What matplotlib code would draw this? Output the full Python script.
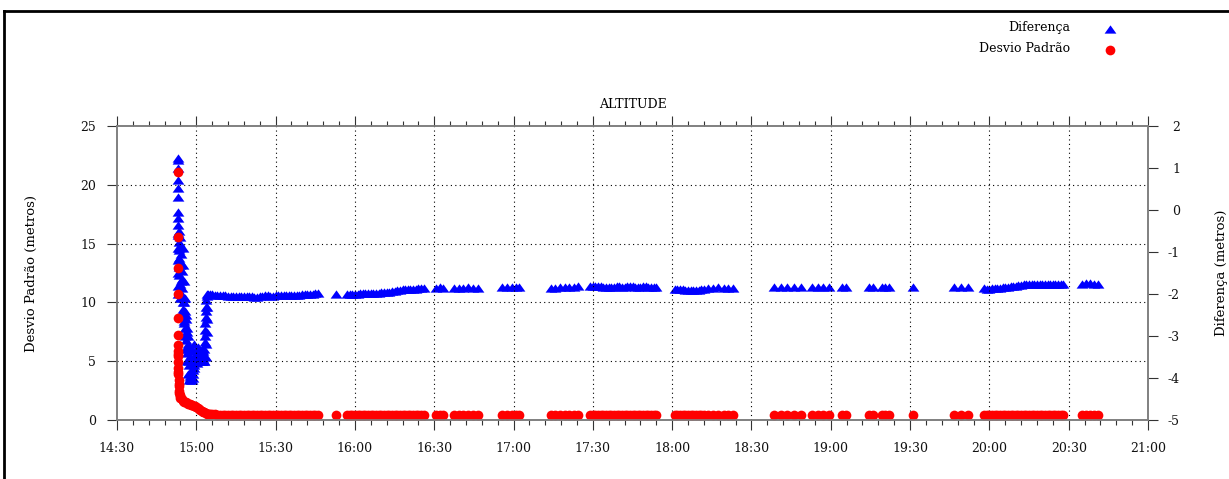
import matplotlib
matplotlib.use("Agg")
import matplotlib.pyplot as plt
from matplotlib.lines import Line2D
from matplotlib.ticker import MultipleLocator

plt.rcParams['font.family'] = ['DejaVu Serif']
plt.rcParams['font.size'] = 9

# time in minutes after 14:30
# start of the run (big spike and dip)
t_dif_start = [23.0, 23.0, 23.0, 23.0, 23.0, 23.0, 23.0, 23.0, 23.0,
               23.2, 23.3, 23.4, 23.5, 23.5, 23.6, 23.7, 23.8, 23.9,
               24.0, 24.1, 24.2, 24.3, 24.4, 24.5, 24.6, 24.7, 24.8,
               25.0, 25.2, 25.4, 25.6, 25.8, 26.0,
               25.5, 25.8, 26.1, 26.4, 26.7, 27.0,
               26.3, 26.6, 26.9, 27.2, 27.5, 27.8, 28.1, 28.4, 28.7,
               27.4, 27.8, 28.2, 28.6, 29.0, 29.3,
               29.6, 29.9, 30.2, 30.5, 30.8, 31.1, 31.4, 31.7, 32.0, 32.3,
               32.6, 32.9, 33.1, 33.3, 33.5, 33.7, 33.9, 34.2, 34.6,
               23.3, 23.6, 23.9, 24.2, 24.5, 24.9, 25.3, 25.7, 26.1, 26.5, 26.9, 27.3,
               28.9, 29.2, 29.5, 30.0, 30.4, 31.0, 31.6, 32.2, 32.8, 33.0, 33.2, 33.4,
               33.6, 33.8,
               23.0, 23.0, 23.1, 23.1, 23.2, 23.2,
               24.9, 25.1, 25.3, 25.6, 26.0, 26.4, 26.8, 27.2, 27.6,
               28.5, 29.0, 29.8, 30.6, 31.3, 32.0, 32.6, 33.0, 33.5, 33.7, 33.9, 34.0, 34.1]
dif_start = [1.24, 1.19, 1.00, 0.71, 0.52, 0.31, -0.05, -0.19, -0.36,
             -0.55, -0.75, -0.95, -1.15, -1.35, -1.55, -1.75, -1.95, -2.10,
             -0.65, -0.85, -1.05, -1.25, -1.45, -1.65, -1.85, -2.05, -2.20,
             -2.35, -2.50, -2.65, -2.80, -2.95, -3.10,
             -2.20, -2.40, -2.60, -2.80, -3.00, -3.20,
             -3.25, -3.40, -3.55, -3.70, -3.85, -4.00, -4.05, -4.05, -4.00,
             -3.35, -3.50, -3.65, -3.80, -3.70, -3.60,
             -3.55, -3.35, -3.30, -3.40, -3.55, -3.60, -3.60, -3.55, -3.60, -3.60,
             -3.55, -3.30, -3.00, -2.70, -2.40, -2.15, -2.05, -2.00, -2.00,
             -0.50, -0.90, -1.30, -1.70, -2.10, -2.40, -2.70, -3.00, -3.30, -3.60, -3.90, -4.05,
             -3.90, -3.75, -3.45, -3.60, -3.65, -3.35, -3.45, -3.40, -3.60, -3.45, -3.15, -2.85,
             -2.55, -2.30,
             -0.60, -0.90, -1.20, -1.50, -1.80, -2.00,
             -0.90, -1.30, -1.70, -2.10, -2.50, -2.90, -3.30, -3.60, -3.95,
             -3.30, -3.20, -3.50, -3.25, -3.50, -3.30, -3.35, -3.60, -3.50, -3.20, -2.90, -2.60, -2.30]

t_std_start = [23.0, 23.0, 23.0, 23.0, 23.0, 23.0, 23.0,
               23.1, 23.1, 23.1, 23.2, 23.2, 23.3, 23.4, 23.5, 23.7,
               24.0, 25.0, 26.0, 27.0, 28.0, 29.0, 30.0, 31.0, 32.0, 33.0, 34.0, 34.8,
               23.15, 23.25, 23.35, 23.6, 23.8, 24.5, 25.5, 26.5, 27.5, 28.5, 29.5,
               30.5, 31.5, 32.5, 33.5]
std_start = [21.1, 15.6, 12.9, 10.7, 8.7, 7.2, 6.4,
             5.9, 5.4, 4.9, 4.4, 3.9, 3.4, 2.9, 2.5, 2.1,
             1.9, 1.65, 1.5, 1.4, 1.3, 1.2, 1.1, 0.95, 0.8, 0.65, 0.55, 0.5,
             5.6, 4.1, 3.1, 2.3, 2.0, 1.75, 1.55, 1.45, 1.35, 1.25, 1.15,
             1.0, 0.88, 0.72, 0.6]

# steady part, both series share the same sample times
t_rest = [35, 36, 37, 38, 39, 40, 41, 42, 43, 44, 45, 46, 47, 48, 49, 50, 51, 52, 53, 54,
          55, 56, 57, 58, 59, 60, 61, 62, 63, 64, 65, 66, 67, 68, 69, 70, 71, 72, 73, 74, 75, 76,
          83,
          87, 88, 89, 90, 91, 92, 93, 94, 95, 96, 97, 98, 99, 100, 101, 102, 103, 104, 105, 106,
          107, 108, 109, 110, 111, 112, 113, 114, 115, 116,
          120.6, 122, 123.3,
          127.5, 129.3, 131, 132.8, 134.6, 136.5,
          145.6, 147.5, 149.5, 151, 152,
          164, 165.8, 167.6, 169.4, 171, 172.7, 174.4,
          179, 180, 181, 182, 183, 184, 185, 186, 187, 188, 189, 190, 191, 192, 193, 194, 195,
          196, 197, 198, 199, 200, 201, 202, 203, 204,
          211, 212, 213, 214, 215, 216, 217, 218, 219, 220, 221, 222,
          223.5, 225.5, 227.5, 229.5, 231.3, 233,
          248.5, 251, 253.5, 256, 258.7,
          262.9, 265, 267, 269.3,
          274.2, 275.7,
          284.4, 285.9,
          289.3, 290.6, 292,
          301,
          316.6, 319.2, 321.9,
          328, 329, 330, 331, 332, 333, 334, 335, 336, 337, 338, 339, 340, 341, 342, 343, 344,
          345, 346, 347, 348, 349, 350, 351, 352, 353, 354, 355, 356, 357, 358,
          365, 366.5, 368, 369.5, 371]
dif_rest = [-2.00, -2.01, -2.02, -2.02, -2.03, -2.03, -2.03, -2.04, -2.04, -2.04,
            -2.04, -2.05, -2.05, -2.04, -2.04, -2.05, -2.05, -2.06, -2.06, -2.05,
            -2.04, -2.03, -2.03, -2.04, -2.04, -2.03, -2.03, -2.03, -2.02, -2.02,
            -2.02, -2.03, -2.03, -2.02, -2.02, -2.01, -2.01, -2.00, -2.00, -1.99,
            -1.98, -1.97,
            -1.99,
            -2.00, -2.00, -1.99, -1.99, -1.99, -1.98, -1.98, -1.98, -1.97, -1.98,
            -1.98, -1.97, -1.97, -1.96, -1.96, -1.95, -1.95, -1.94, -1.92, -1.91,
            -1.90, -1.89, -1.89, -1.88, -1.88, -1.87, -1.87, -1.86, -1.86, -1.86,
            -1.85, -1.84, -1.85,
            -1.86, -1.85, -1.85, -1.84, -1.85, -1.85,
            -1.84, -1.83, -1.83, -1.84, -1.84,
            -1.86, -1.85, -1.84, -1.84, -1.83, -1.83, -1.82,
            -1.82, -1.81, -1.81, -1.82, -1.82, -1.83, -1.83, -1.83, -1.83, -1.83,
            -1.82, -1.82, -1.83, -1.83, -1.82, -1.82, -1.82, -1.83, -1.83, -1.83,
            -1.82, -1.82, -1.83, -1.83, -1.84, -1.84,
            -1.88, -1.88, -1.89, -1.89, -1.90, -1.90, -1.90, -1.91, -1.91, -1.90,
            -1.89, -1.87,
            -1.85, -1.85, -1.84, -1.85, -1.85, -1.85,
            -1.84, -1.83, -1.84, -1.83, -1.84,
            -1.84, -1.83, -1.84, -1.84,
            -1.84, -1.84,
            -1.84, -1.84,
            -1.84, -1.83, -1.84,
            -1.84,
            -1.84, -1.84, -1.84,
            -1.86, -1.87, -1.87, -1.86, -1.86, -1.85, -1.85, -1.84, -1.84, -1.83,
            -1.82, -1.81, -1.80, -1.79, -1.78, -1.77, -1.76, -1.76, -1.76, -1.75,
            -1.75, -1.76, -1.76, -1.75, -1.75, -1.76, -1.76, -1.75, -1.75, -1.76,
            -1.77,
            -1.75, -1.74, -1.74, -1.75, -1.76]
std_rest = [0.50, 0.48, 0.47, 0.46, 0.46, 0.45, 0.46, 0.45, 0.45, 0.46,
            0.45, 0.45, 0.46, 0.45, 0.45, 0.46, 0.45, 0.45, 0.46, 0.45,
            0.45, 0.46, 0.45, 0.45, 0.46, 0.45, 0.45, 0.46, 0.45, 0.45,
            0.46, 0.45, 0.45, 0.46, 0.45, 0.45, 0.46, 0.45, 0.45, 0.46,
            0.45, 0.46,
            0.46,
            0.46, 0.45, 0.45, 0.46, 0.45, 0.45, 0.46, 0.45, 0.45, 0.46,
            0.45, 0.45, 0.46, 0.45, 0.45, 0.46, 0.45, 0.45, 0.46, 0.45,
            0.45, 0.46, 0.45, 0.45, 0.46, 0.45, 0.45, 0.46, 0.45, 0.46,
            0.46, 0.45, 0.46,
            0.46, 0.45, 0.45, 0.46, 0.45, 0.46,
            0.46, 0.45, 0.45, 0.46, 0.46,
            0.46, 0.45, 0.46, 0.45, 0.45, 0.46, 0.46,
            0.46, 0.45, 0.45, 0.46, 0.45, 0.45, 0.46, 0.45, 0.45, 0.46,
            0.45, 0.45, 0.46, 0.45, 0.45, 0.46, 0.45, 0.45, 0.46, 0.45,
            0.45, 0.46, 0.45, 0.45, 0.46, 0.46,
            0.46, 0.45, 0.45, 0.46, 0.45, 0.45, 0.46, 0.45, 0.45, 0.46,
            0.45, 0.46,
            0.46, 0.45, 0.46, 0.45, 0.45, 0.46,
            0.46, 0.45, 0.46, 0.45, 0.46,
            0.46, 0.45, 0.45, 0.46,
            0.46, 0.46,
            0.46, 0.46,
            0.46, 0.45, 0.46,
            0.46,
            0.46, 0.45, 0.46,
            0.46, 0.45, 0.45, 0.46, 0.45, 0.45, 0.46, 0.45, 0.45, 0.46,
            0.45, 0.45, 0.46, 0.45, 0.45, 0.46, 0.45, 0.45, 0.46, 0.45,
            0.45, 0.46, 0.45, 0.45, 0.46, 0.45, 0.45, 0.46, 0.45, 0.45,
            0.46,
            0.46, 0.45, 0.45, 0.46, 0.46]

xtick_pos = [0, 30, 60, 90, 120, 150, 180, 210, 240, 270, 300, 330, 360, 390]
xtick_labels = ['14:30', '15:00', '15:30', '16:00', '16:30', '17:00', '17:30',
                '18:00', '18:30', '19:00', '19:30', '20:00', '20:30', '21:00']

# gnuplot-like flat triangle
tri = [(-1.0, -0.7), (1.0, -0.7), (0.0, 0.7), (-1.0, -0.7)]

fig = plt.figure(figsize=(12.29, 4.79), dpi=100)
ax = fig.add_axes([117 / 1229, 59 / 479, 1031 / 1229, 294 / 479])
ax2 = ax.twinx()

# red on top of blue
ax.set_zorder(ax2.get_zorder() + 1)
ax.patch.set_visible(False)

ax2.plot(t_dif_start + t_rest, dif_start + dif_rest, linestyle='none', marker=tri,
         ms=8.5, mew=0, color='#0000ff')
ax.plot(t_std_start + t_rest, std_start + std_rest, linestyle='none', marker='o',
        ms=7.0, mew=0, color='#ff0000', clip_on=False)

ax.set_xlim(0, 390)
ax.set_ylim(0, 25)
ax2.set_ylim(-5, 2)

ax.set_xticks(xtick_pos)
ax.set_xticklabels(xtick_labels)
ax.xaxis.set_minor_locator(MultipleLocator(6))
ax.set_yticks([0, 5, 10, 15, 20, 25])
ax2.set_yticks([-5, -4, -3, -2, -1, 0, 1, 2])
ax2.set_yticklabels(['-5', '-4', '-3', '-2', '-1', '0', '1', '2'])

ax.tick_params(axis='x', which='major', direction='out', length=7, width=0.8,
               top=True, bottom=True, pad=9, colors='#333333', labelcolor='#111111')
ax.tick_params(axis='x', which='minor', direction='out', length=3.5, width=0.8,
               top=True, bottom=True, colors='#333333')
ax.tick_params(axis='y', direction='out', length=7, width=0.8, pad=8,
               colors='#333333', labelcolor='#111111')
ax2.tick_params(axis='y', direction='out', length=7, width=0.8, pad=16,
                colors='#333333', labelcolor='#111111')
for lab in ax2.get_yticklabels():
    lab.set_horizontalalignment('right')

for a in (ax, ax2):
    for s in a.spines.values():
        s.set_color('#808080')
        s.set_linewidth(1.2)

ax.grid(True, which='major', color='black', linestyle=(0, (1, 3)), linewidth=0.8)
ax.get_xgridlines()[0].set_visible(False)
ax.get_xgridlines()[-1].set_visible(False)
ax.get_ygridlines()[0].set_visible(False)
ax.get_ygridlines()[-1].set_visible(False)

ax.set_title('ALTITUDE', fontsize=9, pad=13)
ax.set_ylabel('Desvio Padrão (metros)', fontsize=9.5)
ax.yaxis.set_label_coords(-0.077, 0.5)
ax2.set_ylabel('Diferença (metros)', fontsize=9.5)
ax2.yaxis.set_label_coords(1.065, 0.5)

# legend at top right
fig.text(1070 / 1229, 1 - 28 / 479, 'Diferença', ha='right', va='center')
fig.text(1070 / 1229, 1 - 49 / 479, 'Desvio Padrão', ha='right', va='center')
fig.add_artist(Line2D([1110 / 1229], [1 - 29 / 479], marker=tri, ms=8.5, mew=0,
                      color='#0000ff', transform=fig.transFigure))
fig.add_artist(Line2D([1110 / 1229], [1 - 50 / 479], marker='o', ms=7.0, mew=0,
                      color='#ff0000', transform=fig.transFigure))

# page border
fig.add_artist(Line2D([4 / 1229, 1], [1 - 11 / 479, 1 - 11 / 479], color='black',
                      lw=2, transform=fig.transFigure))
fig.add_artist(Line2D([4 / 1229, 4 / 1229], [0, 1 - 11 / 479], color='black',
                      lw=2, transform=fig.transFigure))

fig.savefig('out.png', dpi=100)
